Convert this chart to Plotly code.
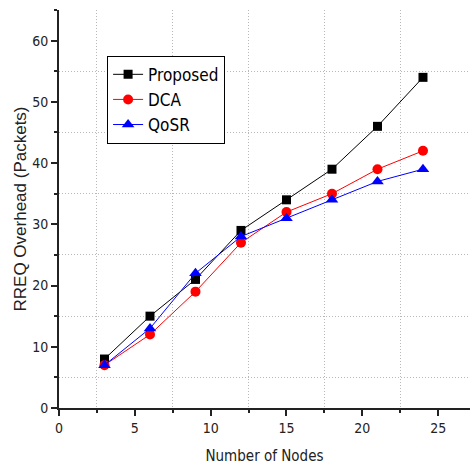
import plotly.graph_objects as go

nodes = [3, 6, 9, 12, 15, 18, 21, 24]
proposed = [8, 15, 21, 29, 34, 39, 46, 54]
dca = [7, 12, 19, 27, 32, 35, 39, 42]
qosr = [7, 13, 22, 28, 31, 34, 37, 39]

FONT = "DejaVu Sans Condensed, Liberation Sans, Arial, sans-serif"
FONT_W = "Liberation Sans, Arial, sans-serif"

fig = go.Figure()
fig.add_trace(go.Scatter(x=nodes, y=proposed, name="Proposed", mode="lines+markers",
                         line=dict(color="black", width=1),
                         marker=dict(symbol="square", size=9, color="black")))
fig.add_trace(go.Scatter(x=nodes, y=dca, name="DCA", mode="lines+markers",
                         line=dict(color="red", width=1),
                         marker=dict(symbol="circle", size=10, color="red")))
fig.add_trace(go.Scatter(x=nodes, y=qosr, name="QoSR", mode="lines+markers",
                         line=dict(color="blue", width=1),
                         marker=dict(symbol="triangle-up", size=11, color="blue")))

xr = [0, 27.1]
yr = [0, 65]
common = dict(showline=True, linecolor="#222", linewidth=2, zeroline=False,
              showgrid=False, ticklen=6, tickwidth=1.5, tickcolor="#222")
GRID = dict(showgrid=True, griddash="1px,2px", gridcolor="#b8b8b8", gridwidth=1)

fig.update_layout(
    width=470, height=466,
    margin=dict(l=59, r=0, t=10, b=58),
    paper_bgcolor="white", plot_bgcolor="white",
    font=dict(family=FONT, color="#222", size=14),
    showlegend=True,
    legend=dict(x=0.117, y=0.885, xanchor="left", yanchor="top",
                bordercolor="black", borderwidth=1, bgcolor="white",
                font=dict(family=FONT, size=17, color="black"),
                tracegroupgap=0, itemwidth=30),
    xaxis=dict(range=xr, tickmode="linear", tick0=0, dtick=5, ticks="outside",
               title=dict(text="Number of Nodes", font=dict(size=15), standoff=16),
               minor=dict(tick0=2.5, dtick=5, ticks="outside", ticklen=3,
                          tickcolor="#222", **GRID),
               **common),
    yaxis=dict(range=yr, tickmode="linear", tick0=0, dtick=10, ticks="outside",
               title=dict(text="RREQ Overhead (Packets)", font=dict(family=FONT_W, size=17),
                          standoff=1),
               minor=dict(tick0=5, dtick=10, ticks="outside", ticklen=3,
                          tickcolor="#222", **GRID),
               **common),
    xaxis2=dict(range=xr, overlaying="x", side="top", anchor="y", tickmode="linear",
                tick0=0, dtick=5, ticks="inside", showticklabels=False,
                minor=dict(tick0=2.5, dtick=5, ticks="inside", ticklen=3, tickcolor="#222"),
                **common),
    yaxis2=dict(range=yr, overlaying="y", side="right", anchor="x", tickmode="linear",
                tick0=0, dtick=10, ticks="inside", showticklabels=False,
                minor=dict(tick0=5, dtick=10, ticks="inside", ticklen=3, tickcolor="#222"),
                **common),
)

fig.write_html("out.html")
